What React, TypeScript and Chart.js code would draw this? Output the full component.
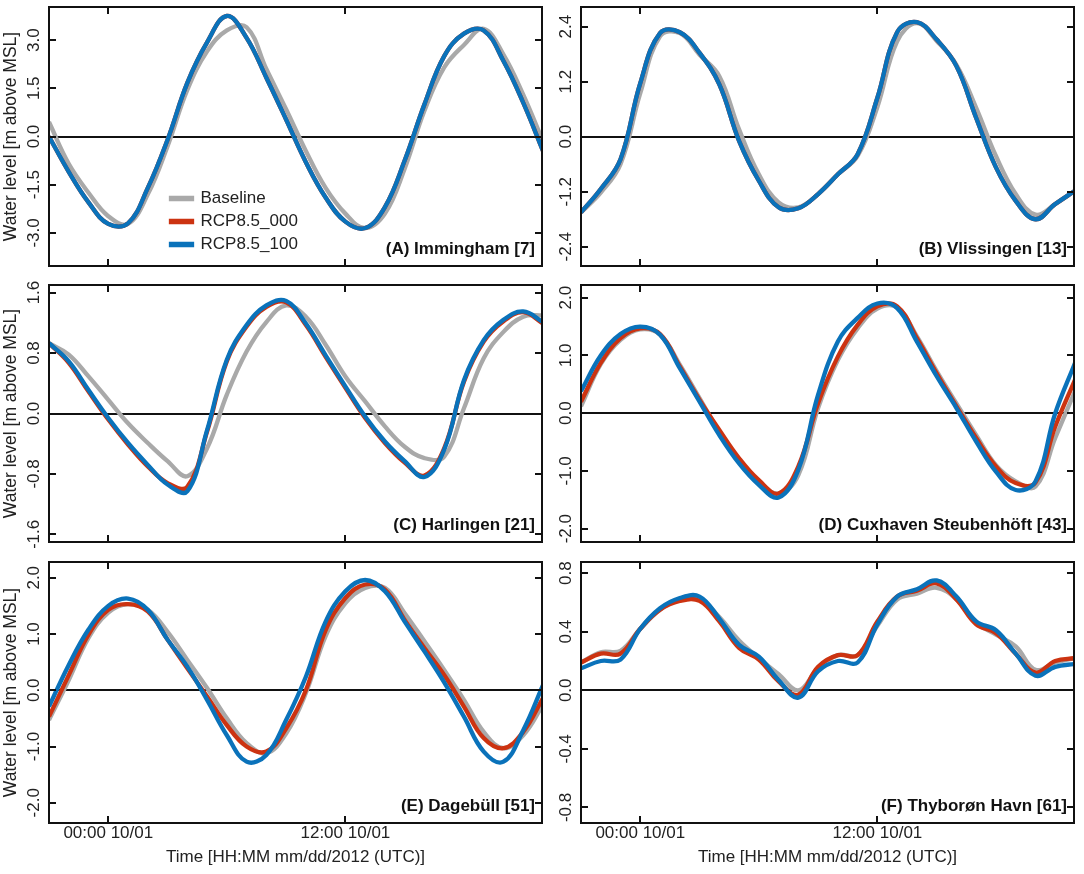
import React, { useEffect, useRef } from "react";
import { Chart, registerables } from "chart.js";

Chart.register(...registerables);

const hours = [-3,-2,-1,0,1,2,3,4,5,6,7,8,9,10,11,12,13,14,15,16,17,18,19,20,21,22];
const xTickHours = [0, 12];
const xTickLabels = ["00:00 10/01", "12:00 10/01"];
const seriesNames = ["Baseline", "RCP8.5_000", "RCP8.5_100"];
const yAxisTitle = "Water level [m above MSL]";
const xAxisTitle = "Time [HH:MM mm/dd/2012 (UTC)]";

const panelNames = ["(A) Immingham [7]", "(B) Vlissingen [13]", "(C) Harlingen [21]", "(D) Cuxhaven Steubenhöft [43]", "(E) Dagebüll [51]", "(F) Thyborøn Havn [61]"];

const ticksA = [-3, -1.5, 0, 1.5, 3];
const ticksB = [-2.4, -1.2, 0, 1.2, 2.4];
const ticksC = [-1.6, -0.8, 0, 0.8, 1.6];
const ticksD = [-2, -1, 0, 1, 2];
const ticksE = [-2, -1, 0, 1, 2];
const ticksF = [-0.8, -0.4, 0, 0.4, 0.8];

const rangeA = [-4.03, 4.03];
const rangeB = [-2.82, 2.83];
const rangeC = [-1.7, 1.7];
const rangeD = [-2.23, 2.22];
const rangeE = [-2.36, 2.28];
const rangeF = [-0.906, 0.876];

const baseA = [0.45,-0.85,-1.75,-2.48,-2.72,-1.8,-0.3,1.45,2.65,3.3,3.4,2.1,0.85,-0.45,-1.6,-2.4,-2.85,-2.4,-1.0,0.8,2.15,2.85,3.35,2.55,1.3,-0.15];
const r000A = [0,-1.1,-2.05,-2.72,-2.7,-1.6,-0.1,1.67,2.93,3.75,3.07,1.83,0.53,-0.8,-1.9,-2.65,-2.85,-2.2,-0.75,1.0,2.5,3.2,3.3,2.35,1.05,-0.45];
const r100A = [0,-1.1,-2.05,-2.72,-2.7,-1.6,-0.1,1.67,2.93,3.75,3.07,1.83,0.53,-0.8,-1.9,-2.65,-2.85,-2.2,-0.75,1.0,2.5,3.2,3.3,2.35,1.05,-0.45];

const baseB = [-1.65,-1.22,-0.6,0.95,2.19,2.26,1.79,1.32,0.16,-0.82,-1.43,-1.54,-1.25,-0.82,-0.42,0.65,2.08,2.48,2.09,1.57,0.63,-0.42,-1.25,-1.7,-1.47,-1.18];
const r000B = [-1.65,-1.14,-0.49,1.17,2.26,2.28,1.83,1.14,-0.09,-0.96,-1.54,-1.56,-1.25,-0.82,-0.38,0.85,2.28,2.5,2.12,1.54,0.41,-0.67,-1.4,-1.8,-1.47,-1.18];
const r100B = [-1.65,-1.14,-0.49,1.17,2.26,2.28,1.83,1.14,-0.09,-0.96,-1.54,-1.56,-1.25,-0.82,-0.38,0.85,2.28,2.5,2.12,1.54,0.41,-0.67,-1.4,-1.8,-1.47,-1.18];

const baseC = [0.93,0.78,0.49,0.18,-0.13,-0.39,-0.63,-0.83,-0.46,0.25,0.82,1.21,1.43,1.28,0.91,0.49,0.16,-0.17,-0.44,-0.59,-0.57,0.07,0.73,1.08,1.28,1.3];
const r000C = [0.93,0.67,0.29,-0.08,-0.41,-0.7,-0.92,-0.97,-0.24,0.69,1.15,1.41,1.47,1.17,0.75,0.34,-0.06,-0.39,-0.65,-0.82,-0.46,0.42,0.95,1.22,1.34,1.19];
const r100C = [0.93,0.69,0.31,-0.06,-0.39,-0.68,-0.94,-1.03,-0.22,0.71,1.17,1.43,1.49,1.19,0.77,0.36,-0.04,-0.37,-0.63,-0.84,-0.48,0.44,0.97,1.24,1.35,1.21];

const baseD = [0.12,0.85,1.27,1.45,1.36,0.84,0.26,-0.32,-0.81,-1.18,-1.39,-1.07,0.09,0.92,1.47,1.81,1.83,1.33,0.73,0.17,-0.38,-0.9,-1.18,-1.27,-0.43,0.38];
const r000D = [0.2,0.87,1.3,1.47,1.37,0.81,0.23,-0.29,-0.78,-1.16,-1.39,-0.92,0.17,0.98,1.53,1.85,1.85,1.3,0.69,0.12,-0.43,-0.92,-1.21,-1.2,-0.23,0.58];
const r100D = [0.38,1.0,1.37,1.5,1.36,0.78,0.2,-0.38,-0.87,-1.24,-1.46,-0.98,0.32,1.24,1.65,1.9,1.82,1.24,0.64,0.09,-0.49,-1.01,-1.33,-1.18,0,0.87];

const baseE = [-0.53,0.18,0.93,1.38,1.53,1.43,1.04,0.54,0.04,-0.5,-0.94,-1.12,-0.77,-0.05,0.96,1.55,1.82,1.82,1.37,0.87,0.36,-0.17,-0.74,-1.03,-0.8,-0.26];
const r000E = [-0.47,0.27,0.99,1.43,1.53,1.4,0.9,0.39,-0.11,-0.62,-1.0,-1.09,-0.68,0,1.07,1.64,1.88,1.79,1.25,0.75,0.27,-0.29,-0.85,-1.03,-0.74,-0.14];
const r100E = [-0.29,0.45,1.08,1.5,1.63,1.43,0.9,0.42,-0.17,-0.8,-1.27,-1.15,-0.53,0.24,1.22,1.76,1.96,1.76,1.22,0.69,0.14,-0.47,-1.09,-1.27,-0.71,0.09];

const baseF = [0.19,0.26,0.27,0.42,0.55,0.62,0.62,0.5,0.34,0.22,0.11,0,0.15,0.24,0.24,0.44,0.62,0.66,0.7,0.62,0.46,0.38,0.3,0.14,0.19,0.22];
const r000F = [0.19,0.25,0.25,0.42,0.55,0.61,0.61,0.47,0.29,0.21,0.06,-0.03,0.16,0.24,0.24,0.47,0.64,0.68,0.73,0.62,0.45,0.39,0.25,0.12,0.2,0.22];
const r100F = [0.15,0.2,0.21,0.42,0.56,0.63,0.64,0.49,0.31,0.23,0.07,-0.05,0.13,0.2,0.19,0.45,0.64,0.69,0.75,0.64,0.47,0.41,0.25,0.1,0.16,0.18];

const colors = ["#a9a9a9", "#cc3311", "#0a72ba"];
const FONT = "'Liberation Sans', Arial, sans-serif";

const panels = [
  { name: panelNames[0], ticks: ticksA, range: rangeA, data: [baseA, r000A, r100A], col: 0, row: 0 },
  { name: panelNames[1], ticks: ticksB, range: rangeB, data: [baseB, r000B, r100B], col: 1, row: 0 },
  { name: panelNames[2], ticks: ticksC, range: rangeC, data: [baseC, r000C, r100C], col: 0, row: 1 },
  { name: panelNames[3], ticks: ticksD, range: rangeD, data: [baseD, r000D, r100D], col: 1, row: 1 },
  { name: panelNames[4], ticks: ticksE, range: rangeE, data: [baseE, r000E, r100E], col: 0, row: 2 },
  { name: panelNames[5], ticks: ticksF, range: rangeF, data: [baseF, r000F, r100F], col: 1, row: 2 },
];

const colGeom = [
  { left: 0, width: 548, axis: 49, right: 6 },
  { left: 552, width: 532, axis: 29, right: 10 },
];
const rowGeom = [
  { top: 0, height: 272, pt: 7, bottom: 6 },
  { top: 278, height: 270, pt: 7, bottom: 6 },
  { top: 556, height: 318, pt: 6, bottom: 51 },
];

const framePlugin = {
  id: "frame",
  beforeDraw(chart: any) {
    if (chart.legend && chart.options.plugins.legend.display) {
      const l = chart.legend;
      const w = l.width, h = l.height;
      l.left = 165; l.top = 184; l.right = 165 + w; l.bottom = 184 + h;
    }
  },
  afterDatasetsDraw(chart: any) {
    const { ctx, chartArea: a, scales } = chart;
    ctx.save();
    ctx.strokeStyle = "#111";
    ctx.lineWidth = 2;
    const len = 7;
    ctx.beginPath();
    scales.x.ticks.forEach((t: any) => {
      const p = Math.round(scales.x.getPixelForValue(t.value));
      ctx.moveTo(p, a.top); ctx.lineTo(p, a.top + len);
      ctx.moveTo(p, a.bottom); ctx.lineTo(p, a.bottom - len);
    });
    scales.y.ticks.forEach((t: any) => {
      const p = Math.round(scales.y.getPixelForValue(t.value));
      ctx.moveTo(a.left, p); ctx.lineTo(a.left + len, p);
      ctx.moveTo(a.right, p); ctx.lineTo(a.right - len, p);
    });
    ctx.stroke();
    ctx.strokeRect(a.left, a.top, a.right - a.left, a.bottom - a.top);
    const label = chart.options.plugins.frame.label;
    ctx.fillStyle = "#111";
    ctx.font = `bold 17px ${FONT}`;
    ctx.textAlign = "right";
    ctx.textBaseline = "middle";
    ctx.fillText(label, a.right - 7, a.bottom - 17);
    ctx.restore();
  },
};

function Panel({ p }: { p: (typeof panels)[number] }) {
  const ref = useRef<HTMLCanvasElement>(null);
  const c = colGeom[p.col];
  const r = rowGeom[p.row];
  useEffect(() => {
    const withX = p.row === 2;
    const chart = new Chart(ref.current as HTMLCanvasElement, {
      type: "line",
      data: {
        datasets: seriesNames.map((n, i) => ({
          label: n,
          data: hours.map((h, k) => ({ x: h, y: p.data[i][k] })),
          borderColor: colors[i],
          backgroundColor: colors[i],
          borderWidth: 4.3,
          pointRadius: 0,
          tension: 0.4,
          order: 3 - i,
        })),
      },
      plugins: [framePlugin],
      options: {
        animation: false,
        responsive: false,
        devicePixelRatio: 1,
        layout: { padding: { top: r.pt, right: c.right, bottom: withX ? 0 : r.bottom, left: 0 } },
        plugins: {
          frame: { label: p.name },
          tooltip: { enabled: false },
          title: { display: false },
          legend: {
            display: p.col === 0 && p.row === 0,
            position: "chartArea",
            align: "start",
            labels: {
              boxWidth: 21,
              boxHeight: 1,
              padding: 6,
              color: "#222",
              font: { family: FONT, size: 17 },
              sort: (a: any, b: any) => a.datasetIndex - b.datasetIndex,
            },
          },
        },
        scales: {
          x: {
            type: "linear",
            min: -3,
            max: 21.95,
            afterBuildTicks: (s: any) => { s.ticks = xTickHours.map((v) => ({ value: v })); },
            afterFit: (s: any) => {
              s.height = withX ? r.bottom : 0;
              s.paddingLeft = 0;
              s.paddingRight = 0;
            },
            grid: { display: false, drawTicks: false },
            border: { display: false },
            ticks: {
              display: withX,
              autoSkip: false,
              maxRotation: 0,
              padding: 0,
              color: "#222",
              font: { family: FONT, size: 17 },
              callback: (v: any) => xTickLabels[xTickHours.indexOf(v)],
            },
            title: {
              display: withX,
              text: xAxisTitle,
              color: "#222",
              font: { family: FONT, size: 17 },
              padding: { top: 0, bottom: 6 },
            },
          },
          y: {
            type: "linear",
            min: p.range[0],
            max: p.range[1],
            afterBuildTicks: (s: any) => { s.ticks = p.ticks.map((v) => ({ value: v })); },
            afterFit: (s: any) => {
              s.width = c.axis;
              s.paddingTop = 0;
              s.paddingBottom = 0;
            },
            grid: {
              drawTicks: false,
              lineWidth: 2,
              color: (ctx: any) => (ctx.tick && ctx.tick.value === 0 ? "#111" : "transparent"),
            },
            border: { display: false },
            ticks: {
              autoSkip: false,
              minRotation: 90,
              maxRotation: 90,
              crossAlign: "center",
              padding: 0,
              color: "#222",
              font: { family: FONT, size: 17 },
              callback: (v: any) => Number(v).toFixed(1),
            },
            title: {
              display: p.col === 0,
              text: yAxisTitle,
              color: "#222",
              font: { family: FONT, size: 17.5 },
              padding: { top: 1, bottom: 0 },
            },
          },
        },
      } as any,
    } as any);
    return () => chart.destroy();
  }, []);
  return (
    <canvas
      ref={ref}
      width={c.width}
      height={r.height}
      style={{ position: "absolute", left: c.left, top: r.top, width: c.width, height: r.height }}
    />
  );
}

export default function App() {
  return (
    <div style={{ position: "absolute", left: 0, top: 0, width: 1084, height: 874, background: "#fff", overflow: "hidden" }}>
      {panels.map((p) => (
        <Panel key={p.name} p={p} />
      ))}
    </div>
  );
}
